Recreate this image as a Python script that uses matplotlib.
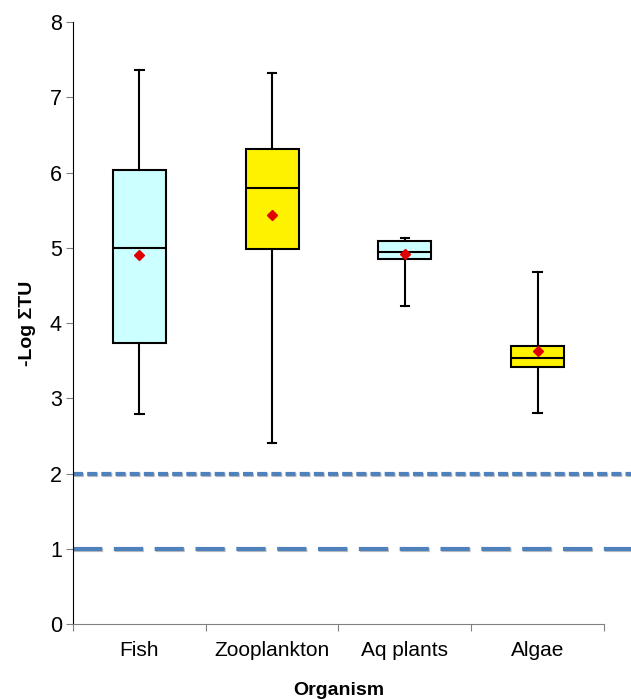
import matplotlib
matplotlib.use("Agg")
import matplotlib.pyplot as plt
import matplotlib.patheffects as pe

plt.rcParams['font.family'] = ['Liberation Sans', 'DejaVu Sans']

## Données
organismes = ["Fish", "Zooplankton", "Aq plants", "Algae"]
w_bas = [2.79, 2.41, 4.23, 2.81]
q1 = [3.73, 4.98, 4.85, 3.41]
mediane = [5.00, 5.80, 4.95, 3.53]
q3 = [6.03, 6.31, 5.09, 3.70]
w_haut = [7.36, 7.32, 5.13, 4.68]
moyenne = [4.91, 5.44, 4.92, 3.63]
couleurs = ["#CCFFFF", "#FFF200", "#CCFFFF", "#FFF200"]
seuils = [2, 1]

fig = plt.figure(figsize=(6.31, 6.99), dpi=100)
ax = fig.add_axes([0.1157, 0.1073, 0.8415, 0.8612])

pos = [i + 0.5 for i in range(len(organismes))]
stats = []
for i, nom in enumerate(organismes):
    stats.append({"label": nom, "whislo": w_bas[i], "q1": q1[i], "med": mediane[i],
                  "q3": q3[i], "whishi": w_haut[i], "mean": moyenne[i], "fliers": []})

bp = ax.bxp(stats, positions=pos, widths=0.4, patch_artist=True, showmeans=True,
            meanprops=dict(marker="D", markerfacecolor="#E00000", markeredgecolor="#E00000", markersize=5.5),
            medianprops=dict(color="black", linewidth=1.5),
            whiskerprops=dict(color="black", linewidth=1.5),
            capprops=dict(color="black", linewidth=1.5),
            boxprops=dict(edgecolor="black", linewidth=1.5))
for patch, c in zip(bp["boxes"], couleurs):
    patch.set_facecolor(c)
for cap in bp["caps"]:
    x = cap.get_xdata()
    m = (x[0] + x[1]) / 2
    cap.set_xdata([m - 0.032, m + 0.032])

# seuils (lignes pointillées)
ombre = [pe.SimpleLineShadow(offset=(0.8, -1.2), shadow_color="gray", alpha=0.5), pe.Normal()]
ax.plot([0, 1.06], [seuils[0]] * 2, transform=ax.get_yaxis_transform(), color="#4F81BD",
        lw=3, dashes=(2.4, 1.0), clip_on=False, path_effects=ombre, zorder=1)
ax.plot([0, 1.06], [seuils[1]] * 2, transform=ax.get_yaxis_transform(), color="#4F81BD",
        lw=3, dashes=(7.0, 2.8), clip_on=False, path_effects=ombre, zorder=1)

ax.set_xlim(0, 4)
ax.set_ylim(0, 8)
ax.set_yticks(range(0, 9))
ax.set_xticks(range(0, 5))
ax.set_xticklabels([])
ax.set_xticks(pos, minor=True)
ax.set_xticklabels(organismes, minor=True)
ax.tick_params(axis="x", which="minor", length=0, pad=12, labelsize=15)
ax.tick_params(axis="x", which="major", length=5, color="#808080", direction="out")
ax.tick_params(axis="y", length=5, color="#808080", labelsize=15.5, pad=3)

for s in ["top", "right"]:
    ax.spines[s].set_visible(False)
ax.spines["bottom"].set_color("#808080")
ax.spines["left"].set_color("black")

ax.set_ylabel("-Log \u03a3TU", fontweight="bold", fontsize=14, labelpad=10)
ax.set_xlabel("Organism", fontweight="bold", fontsize=14, labelpad=16)

fig.savefig("out.png", dpi=100)
